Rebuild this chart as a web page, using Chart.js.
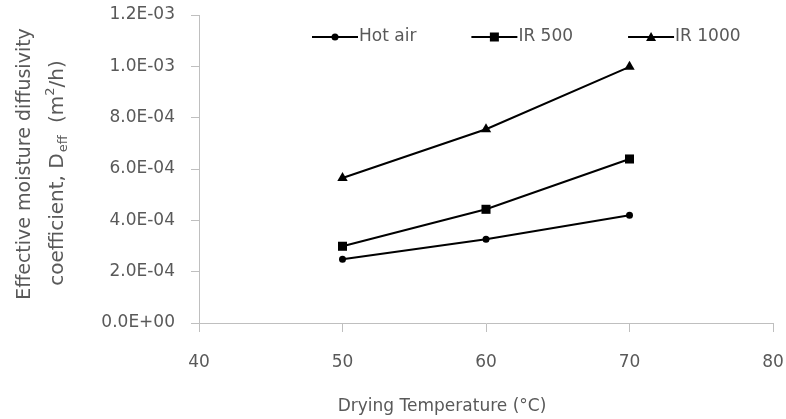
<!DOCTYPE html>
<html>
<head>
<meta charset="utf-8">
<script src="https://cdn.jsdelivr.net/npm/chart.js@4"></script>
<style>
  html, body { margin: 0; padding: 0; background: #fff; }
  #wrap { width: 786px; height: 419px; }
</style>
</head>
<body>
<div id="wrap"><canvas id="chart"></canvas></div>
<script>
const temps = [50, 60, 70];
const hotAir = [2.48e-4, 3.26e-4, 4.2e-4];
const ir500 = [2.99e-4, 4.43e-4, 6.39e-4];
const ir1000 = [5.65e-4, 7.55e-4, 9.98e-4];
const seriesNames = ['Hot air', 'IR 500', 'IR 1000'];
const yTitleLine1 = 'Effective moisture diffusivity';
const xTitle = 'Drying Temperature (\u00B0C)';

const FONT = '"DejaVu Sans", sans-serif';
const GREY = '#595959';
const AXIS = '#bfbfbf';

function fmtSci(v) {
    if (Math.abs(v) < 1e-12) return '0.0E+00';
    const parts = v.toExponential(1).toUpperCase().split('E');
    const exp = parseInt(parts[1], 10);
    const sign = exp < 0 ? '-' : '+';
    return parts[0] + 'E' + sign + String(Math.abs(exp)).padStart(2, '0');
}

function drawMarker(ctx, shape, cx, cy) {
    ctx.beginPath();
    if (shape === 'circle') {
        ctx.arc(cx, cy, 3.5, 0, Math.PI * 2);
    } else if (shape === 'rect') {
        ctx.rect(cx - 4.5, cy - 4.5, 9, 9);
    } else {
        ctx.moveTo(cx, cy - 5);
        ctx.lineTo(cx + 5, cy + 4);
        ctx.lineTo(cx - 5, cy + 4);
        ctx.closePath();
    }
    ctx.fill();
}

function toPoints(ys) {
    return temps.map((t, i) => ({ x: t, y: ys[i] }));
}

function makeSet(label, ys, shape, radius) {
    return {
        label: label,
        data: toPoints(ys),
        borderColor: '#000',
        backgroundColor: '#000',
        borderWidth: 2,
        pointStyle: shape,
        pointRadius: radius,
        pointHoverRadius: radius,
        pointBorderWidth: 0,
        tension: 0
    };
}

// legend (line + marker + name) and the two axis titles
const decorations = {
    id: 'decorations',
    afterDraw(chart) {
        const ctx = chart.ctx;
        const area = chart.chartArea;

        // legend
        ctx.save();
        ctx.font = '17px ' + FONT;
        ctx.textBaseline = 'middle';
        ctx.textAlign = 'left';
        let lx = 312;
        const ly = 37;
        chart.data.datasets.forEach(ds => {
            ctx.strokeStyle = '#000';
            ctx.fillStyle = '#000';
            ctx.lineWidth = 2;
            ctx.beginPath();
            ctx.moveTo(lx, ly);
            ctx.lineTo(lx + 46, ly);
            ctx.stroke();
            drawMarker(ctx, ds.pointStyle, lx + 23, ly);
            ctx.fillStyle = GREY;
            ctx.fillText(ds.label, lx + 47, ly);
            lx += 47 + ctx.measureText(ds.label).width + 55;
        });
        ctx.restore();

        // y title, rotated, two lines
        const cy = (area.top + area.bottom) / 2;
        ctx.save();
        ctx.fillStyle = GREY;
        ctx.textBaseline = 'middle';
        ctx.translate(25, cy);
        ctx.rotate(-Math.PI / 2);
        ctx.font = '19px ' + FONT;
        ctx.textAlign = 'center';
        ctx.fillText(yTitleLine1, 5, 0);

        const big = '20px ' + FONT;
        const small = '13px ' + FONT;
        const pieces = [
            { t: 'coefficient, D', f: big, dy: 0, after: 1 },
            { t: 'eff', f: small, dy: 6, after: 6 },
            { t: ' (m', f: big, dy: 0, after: 0 },
            { t: '2', f: small, dy: -7, after: 0 },
            { t: '/h)', f: big, dy: 0, after: 0 }
        ];
        let total = 0;
        pieces.forEach(p => { ctx.font = p.f; p.w = ctx.measureText(p.t).width; total += p.w + p.after; });
        let x = -4 - total / 2;
        ctx.textAlign = 'left';
        pieces.forEach(p => {
            ctx.font = p.f;
            ctx.fillText(p.t, x, 33 + p.dy);
            x += p.w + p.after;
        });
        ctx.restore();

        // x title
        ctx.save();
        ctx.fillStyle = GREY;
        ctx.textBaseline = 'middle';
        ctx.textAlign = 'center';
        ctx.font = '17px ' + FONT;
        ctx.fillText(xTitle, 442, 407);
        ctx.restore();
    }
};

new Chart(document.getElementById('chart'), {
    type: 'line',
    data: {
        datasets: [
            makeSet(seriesNames[0], hotAir, 'circle', 3.5),
            makeSet(seriesNames[1], ir500, 'rect', 6.4),
            makeSet(seriesNames[2], ir1000, 'triangle', 6)
        ]
    },
    options: {
        responsive: true,
        maintainAspectRatio: false,
        animation: false,
        layout: { padding: { left: 95, right: 13, top: 15, bottom: 0 } },
        plugins: {
            legend: { display: false },
            tooltip: { enabled: false }
        },
        scales: {
            x: {
                type: 'linear',
                min: 40,
                max: 80,
                afterFit: s => {
                    s.height = 96;
                    s.paddingLeft = 0;
                    s.paddingRight = 0;
                },
                ticks: {
                    stepSize: 10,
                    padding: 20,
                    color: GREY,
                    font: { family: FONT, size: 17 }
                },
                grid: { drawOnChartArea: false, drawTicks: true, tickLength: 9, color: AXIS },
                border: { color: AXIS, width: 1 }
            },
            y: {
                min: 0,
                max: 1.2e-3,
                afterFit: s => {
                    s.width = 104;
                    s.paddingTop = 0;
                    s.paddingBottom = 0;
                },
                ticks: {
                    stepSize: 2e-4,
                    padding: 16,
                    color: GREY,
                    font: { family: FONT, size: 17 },
                    callback: v => fmtSci(v)
                },
                grid: { drawOnChartArea: false, drawTicks: true, tickLength: 8, color: AXIS },
                border: { color: AXIS, width: 1 }
            }
        }
    },
    plugins: [decorations]
});
</script>
</body>
</html>
